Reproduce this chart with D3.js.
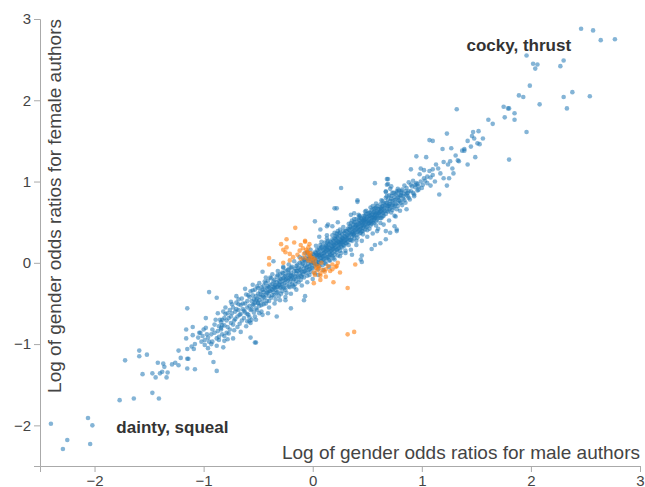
<!DOCTYPE html>
<html><head><meta charset="utf-8">
<script src="https://cdn.jsdelivr.net/npm/d3@7"></script>
<style>body{margin:0;background:#fff}svg{display:block;font-family:"Liberation Sans",Arial,sans-serif}</style>
</head><body><svg id="c" width="645" height="487"></svg>
<script>
const xTicks=[-2,-1,0,1,2,3];
const yTicks=[-2,-1,0,1,2,3];
const xTitle="Log of gender odds ratios for male authors";
const yTitle="Log of gender odds ratios for female authors";
const labelText=["cocky, thrust","dainty, squeal"];
const labelX=[1.41,-1.80];
const labelY=[2.61,-2.10];

const blueSparse=[[2.46,2.88],[2.57,2.86],[2.64,2.74],[2.77,2.75],[1.96,2.55],[2.30,2.49],[2.02,2.45],[2.06,2.44],[2.04,2.39],[2.27,2.42],[1.99,2.18],[1.89,2.06],[1.93,2.04],[2.08,1.95],[2.38,2.10],[2.30,2.04],[2.54,2.05],[2.33,1.90],[1.75,1.92],[1.79,1.90],[1.80,1.90],[1.85,1.84],[1.76,1.79],[1.85,1.76],[1.32,1.89],[1.61,1.76],[1.65,1.71],[1.96,1.61],[1.23,1.59],[1.47,1.61],[1.52,1.62],[1.46,1.56],[1.48,1.53],[1.56,1.53],[1.42,1.50],[1.51,1.47],[1.53,1.46],[1.07,1.51],[1.10,1.50],[1.19,1.40],[1.27,1.41],[1.37,1.38],[1.39,1.40],[1.39,1.38],[1.45,1.43],[0.95,1.31],[1.04,1.30],[1.31,1.32],[1.33,1.26],[1.34,1.25],[1.26,1.25],[1.49,1.30],[1.42,1.21],[1.80,1.27],[1.20,1.24],[1.24,1.21],[1.28,1.16],[1.29,1.10],[1.13,1.21],[1.15,1.16],[1.10,1.15],[1.07,1.13],[0.99,1.16],[1.02,1.14],[0.90,1.15],[0.98,1.09],[1.02,1.04],[1.05,1.06],[1.08,1.05],[1.10,1.08],[1.17,1.10],[1.20,1.04],[1.25,1.04],[1.23,0.95],[1.16,0.84],[0.94,0.96],[0.96,0.97],[0.92,1.01],[0.88,0.99],[0.69,1.03],[0.68,0.96],[0.72,0.94],[0.67,0.88],[0.77,0.88],[0.81,0.86],[0.86,0.84],[0.93,0.82],[0.79,0.81],[1.00,0.92],[1.05,0.98],[1.12,1.00],[0.97,0.90],[1.08,0.95],
[-2.40,-1.98],[-2.29,-2.29],[-2.25,-2.18],[-2.06,-1.91],[-2.02,-2.00],[-2.04,-2.23],[-1.77,-1.69],[-1.64,-1.67],[-1.47,-1.60],[-1.41,-1.67],[-1.72,-1.20],[-1.59,-1.08],[-1.59,-1.15],[-1.52,-1.13],[-1.56,-1.37],[-1.47,-1.36],[-1.44,-1.41],[-1.42,-1.23],[-1.37,-1.24],[-1.36,-1.28],[-1.38,-1.34],[-1.40,-1.36],[-1.33,-1.35],[-1.34,-1.41],[-1.29,-1.25],[-1.26,-1.23],[-1.23,-1.26],[-1.21,-1.17],[-1.15,-1.18],[-1.15,-1.30],[-1.08,-1.31],[-1.23,-1.08],[-1.11,-1.03],[-1.09,-1.06],[-1.16,-0.93],[-1.10,-0.89],[-1.08,-1.00],[-1.03,-0.86],[-1.01,-0.90],[-0.99,-0.95],[-0.95,-0.97],[-0.96,-1.05],[-0.93,-1.00],[-0.94,-1.11],[-0.91,-1.22],[-0.88,-1.33],[-0.86,-0.78],[-0.81,-0.90],[-0.78,-0.94],[-0.72,-0.83],[-0.60,-0.72],[-0.57,-0.92],[-0.66,-0.85],[-0.75,-0.74],[-0.84,-0.80],[-0.96,-0.92],
[-1.15,-0.56],[-0.95,-0.36],[-0.88,-0.43],[-0.98,-0.68],[-1.16,-0.82],[-1.10,-0.79],[-1.04,-0.86],[-1.00,-0.82],[-1.05,-0.92],[-1.02,-0.97],[-0.97,-0.88],[-1.15,-1.06],[-1.14,-1.18],[-0.92,-0.82],[-0.88,-0.93],[-0.86,-0.91],[-0.84,-0.82],[-0.83,-0.70],[-0.81,-0.68],[-0.75,-0.48],[-0.70,-0.41],[-0.68,-0.51],[-0.78,-0.79],[-0.77,-0.87],[-0.81,-0.96],[-0.73,-0.93],[-0.52,-0.98],[-0.82,-1.04],
[-0.50,-0.49],[-0.41,-0.62],[-0.33,-0.66],[-0.53,-0.98],[-0.20,-0.56],[-0.25,-0.46],[-0.07,-0.41],[-0.08,-0.46],[-0.57,-0.74],[-0.36,0.02],[-0.46,-0.11],[-0.27,-0.05],
[0.26,0.92],[0.41,0.77],[0.20,0.67],[0.02,0.51],[0.07,0.41],[0.14,0.47],[0.18,0.45],[0.23,0.50],[0.25,0.41],[0.13,0.34],[0.06,0.32],[0.22,0.32],[0.35,0.59],[0.38,0.61],[0.42,0.59],[0.47,0.55],[0.51,0.61],[0.56,0.55],[0.57,0.98],[0.68,1.03],[0.69,0.97],[0.67,0.87],[0.71,0.91],[0.20,0.37],[0.22,0.67],[0.13,0.45],[0.41,0.75],
[0.59,0.39],[0.62,0.49],[0.67,0.39],[0.77,0.39],[0.75,0.45],[0.76,0.57],[0.54,0.17],[0.44,0.04],[0.45,0.09],[0.45,0.01],[0.62,0.24],[0.67,0.29],[0.36,0.10],[0.57,0.22],[0.71,0.37],[0.77,0.41]];

const blueBand=[[-0.98,-0.80],[-0.93,-0.88],[-0.90,-0.76],[-0.87,-0.84],[-0.85,-0.70],[-0.83,-0.77],[-0.80,-0.63],[-0.79,-0.86],[-0.77,-0.68],[-0.76,-0.58],[-0.99,-1.01],[-0.92,-0.97],[-0.88,-1.02],[-0.82,-0.60],
[-0.74,-0.62],[-0.73,-0.55],[-0.72,-0.71],[-0.71,-0.60],[-0.70,-0.49],[-0.69,-0.66],[-0.68,-0.58],[-0.67,-0.75],[-0.66,-0.52],[-0.66,-0.63],[-0.65,-0.44],[-0.64,-0.57],[-0.63,-0.68],[-0.62,-0.50],[-0.62,-0.61],[-0.61,-0.39],[-0.60,-0.55],[-0.60,-0.47],[-0.59,-0.64],[-0.58,-0.42],[-0.58,-0.53],[-0.57,-0.35],[-0.57,-0.58],[-0.56,-0.47],[-0.56,-0.70],[-0.55,-0.40],[-0.55,-0.52],[-0.54,-0.45],[-0.54,-0.61],[-0.53,-0.33],[-0.53,-0.49],[-0.52,-0.41],[-0.52,-0.56],[-0.51,-0.44],[-0.51,-0.29],[-0.50,-0.50],[-0.50,-0.38],[-0.49,-0.46],[-0.49,-0.62],[-0.48,-0.35],[-0.48,-0.42],[-0.47,-0.52],[-0.47,-0.30],[-0.46,-0.40],[-0.46,-0.47],
[-0.45,-0.36],[-0.45,-0.28],[-0.44,-0.43],[-0.44,-0.33],[-0.43,-0.25],[-0.43,-0.39],[-0.42,-0.31],[-0.42,-0.47],[-0.41,-0.36],[-0.41,-0.22],[-0.40,-0.30],[-0.40,-0.41],[-0.39,-0.27],[-0.39,-0.35],[-0.38,-0.19],[-0.38,-0.32],[-0.37,-0.40],[-0.37,-0.26],[-0.36,-0.30],[-0.36,-0.36],[-0.35,-0.21],[-0.35,-0.28],[-0.34,-0.33],[-0.34,-0.45],[-0.33,-0.24],[-0.33,-0.17],[-0.32,-0.29],[-0.32,-0.36],[-0.31,-0.22],[-0.31,-0.27],[-0.30,-0.14],[-0.30,-0.31],[-0.30,-0.24],[-0.29,-0.38],[-0.29,-0.20],[-0.28,-0.26],[-0.28,-0.12],[-0.27,-0.22],[-0.27,-0.30],[-0.26,-0.17],[-0.26,-0.25],[-0.25,-0.33],[-0.25,-0.10],[-0.24,-0.20],[-0.24,-0.27],[-0.23,-0.15],[-0.23,-0.22],[-0.22,-0.08],[-0.22,-0.29],[-0.21,-0.18],[-0.21,-0.24],[-0.20,-0.12],[-0.20,-0.20],[-0.19,-0.26],[-0.19,-0.05],[-0.18,-0.15],[-0.18,-0.21],[-0.17,-0.10],[-0.17,-0.30],[-0.16,-0.17],[-0.16,-0.07],[-0.15,-0.13],[-0.15,-0.22],[-0.14,-0.02],[-0.14,-0.10],[-0.13,-0.18],[-0.13,-0.06],[-0.12,-0.13],[-0.12,0.00],[-0.11,-0.09],[-0.11,-0.16],[-0.10,-0.04],[-0.10,-0.11],
[-0.09,-0.01],[-0.09,-0.14],[-0.08,-0.07],[-0.08,0.04],[-0.07,-0.10],[-0.07,-0.03],[-0.06,0.02],[-0.06,-0.12],[-0.05,-0.05],[-0.05,0.08],[-0.04,-0.01],[-0.04,-0.09],[-0.03,0.05],[-0.03,-0.04],[-0.02,0.01],[-0.02,-0.11],[-0.01,0.07],[-0.01,-0.02],[0.00,0.03],[0.00,-0.07],[0.01,0.10],[0.01,0.00],[0.02,0.05],[0.02,-0.04],[0.03,0.12],[0.03,0.02],[0.04,0.07],[0.04,-0.02],[0.05,0.04],[0.05,0.14],[0.06,0.09],[0.06,0.00],[0.07,0.06],[0.07,0.17],[0.08,0.11],[0.08,0.02],[0.09,0.08],[0.09,0.15],[0.10,0.04],[0.10,0.12],[0.11,0.19],[0.11,0.09],[0.12,0.14],[0.12,0.05],[0.13,0.11],[0.13,0.20],[0.14,0.16],[0.14,0.07],[0.15,0.13],[0.15,0.23],[0.16,0.18],[0.16,0.10],[0.17,0.15],[0.17,0.25],[0.18,0.20],[0.18,0.12],[0.19,0.17],[0.19,0.27],[0.20,0.22],[0.20,0.14],[0.21,0.19],[0.21,0.29],[0.22,0.24],[0.22,0.16],[0.23,0.21],[0.23,0.31],[0.24,0.26],[0.24,0.18],[0.25,0.23],[0.25,0.33],[0.26,0.28],[0.26,0.20],[0.27,0.25],[0.27,0.35],[0.28,0.30],[0.28,0.22],[0.29,0.27],[0.29,0.37],[0.30,0.32],[0.30,0.24],
[-0.08,-0.18],[-0.05,0.13],[-0.03,-0.15],[0.00,0.11],[0.02,-0.13],[0.04,0.16],[0.05,-0.08],[0.07,0.22],[0.09,-0.03],[0.11,0.25],[0.12,-0.01],[0.14,0.27],[0.16,0.03],[0.18,0.29],[0.19,0.06],[0.21,0.33],[0.23,0.09],[0.24,0.36],[0.26,0.12],[0.28,0.39],[0.30,0.15],[0.03,0.09],[0.08,0.06],[0.13,0.16],[0.17,0.21],[0.22,0.27],[0.27,0.30],[0.10,0.08],[0.15,0.18],[0.20,0.18],[0.25,0.28],
[0.31,0.29],[0.31,0.39],[0.32,0.34],[0.32,0.26],[0.33,0.41],[0.33,0.31],[0.34,0.37],[0.34,0.45],[0.35,0.28],[0.35,0.35],[0.36,0.42],[0.36,0.32],[0.37,0.47],[0.37,0.38],[0.38,0.30],[0.38,0.36],[0.39,0.44],[0.39,0.50],[0.40,0.34],[0.40,0.41],[0.41,0.47],[0.41,0.38],[0.42,0.53],[0.42,0.44],[0.43,0.36],[0.43,0.41],[0.44,0.49],[0.44,0.55],[0.45,0.39],[0.45,0.46],[0.46,0.52],[0.46,0.43],[0.47,0.58],[0.47,0.49],[0.48,0.41],[0.48,0.47],[0.49,0.54],[0.49,0.60],[0.50,0.45],[0.50,0.51],[0.51,0.57],[0.51,0.48],[0.52,0.62],[0.52,0.54],[0.53,0.46],[0.53,0.51],[0.54,0.59],[0.54,0.65],[0.55,0.50],[0.55,0.56],[0.56,0.62],[0.56,0.53],[0.57,0.67],[0.57,0.59],[0.58,0.51],[0.58,0.56],[0.59,0.63],[0.59,0.70],[0.60,0.55],[0.60,0.61],
[0.33,0.22],[0.36,0.52],[0.40,0.27],[0.43,0.57],[0.46,0.35],[0.49,0.64],[0.52,0.42],[0.55,0.70],[0.58,0.46],[0.35,0.44],[0.42,0.49],[0.48,0.53],[0.53,0.57],[0.57,0.63],[0.38,0.40],[0.45,0.50],
[0.61,0.66],[0.61,0.58],[0.62,0.72],[0.62,0.63],[0.63,0.55],[0.63,0.68],[0.64,0.61],[0.64,0.76],[0.65,0.66],[0.65,0.58],[0.66,0.71],[0.66,0.64],[0.67,0.80],[0.67,0.60],[0.68,0.69],[0.68,0.74],[0.69,0.63],[0.70,0.72],[0.70,0.83],[0.71,0.67],[0.71,0.76],[0.72,0.62],[0.72,0.79],[0.73,0.71],[0.74,0.86],[0.74,0.68],[0.75,0.77],[0.76,0.72],[0.76,0.84],[0.77,0.66],[0.78,0.80],[0.78,0.74],[0.79,0.89],[0.80,0.76],[0.81,0.83],[0.82,0.71],[0.82,0.90],[0.83,0.79],[0.84,0.85],[0.85,0.74],[0.86,0.92],[0.87,0.82],[0.88,0.88],[0.89,0.78],[0.90,0.96],[0.92,0.86],[0.94,0.93],[0.96,0.89]];

const blueBand2=[[-0.90,-0.86],[-0.89,-0.70],[-0.87,-0.62],[-0.86,-0.95],[-0.84,-0.73],[-0.83,-0.88],[-0.81,-0.77],[-0.80,-0.55],[-0.79,-0.71],[-0.78,-0.62],[-0.76,-0.82],[-0.75,-0.66],[-0.74,-0.51],[-0.73,-0.76],[-0.71,-0.69],[-0.70,-0.57],[-0.69,-0.79],[-0.68,-0.45],[-0.67,-0.64],[-0.65,-0.71],[-0.64,-0.50],[-0.63,-0.59],[-0.61,-0.78],[-0.60,-0.63],[-0.59,-0.40],[-0.58,-0.67],[-0.56,-0.57],[-0.55,-0.34],[-0.54,-0.51],[-0.53,-0.66],[-0.52,-0.46],[-0.51,-0.58],[-0.50,-0.31],[-0.49,-0.53],[-0.48,-0.39],[-0.47,-0.60],[-0.46,-0.33],[-0.45,-0.51],
[-0.45,-0.42],[-0.44,-0.23],[-0.43,-0.50],[-0.42,-0.37],[-0.41,-0.29],[-0.40,-0.47],[-0.39,-0.18],[-0.38,-0.43],[-0.37,-0.33],[-0.36,-0.23],[-0.35,-0.40],[-0.34,-0.27],[-0.33,-0.37],[-0.32,-0.15],[-0.31,-0.41],[-0.30,-0.19],[-0.29,-0.30],[-0.28,-0.35],[-0.27,-0.13],[-0.26,-0.31],[-0.25,-0.21],[-0.24,-0.37],[-0.23,-0.09],[-0.22,-0.19],[-0.21,-0.30],[-0.20,-0.06],[-0.19,-0.16],[-0.18,-0.28],[-0.17,-0.20],[-0.16,-0.26],[-0.15,-0.04],[-0.14,-0.17],[-0.13,-0.24],[-0.12,-0.08],[-0.11,-0.21],[-0.10,0.01],[-0.10,-0.17],[-0.35,-0.31],[-0.30,-0.27],[-0.25,-0.16],[-0.20,-0.16],[-0.15,-0.10],[-0.40,-0.35],[-0.33,-0.30],[-0.27,-0.19],[-0.22,-0.13],
[-0.09,0.06],[-0.08,-0.11],[-0.07,0.03],[-0.06,-0.06],[-0.05,-0.16],[-0.04,0.05],[-0.03,-0.08],[-0.02,0.09],[-0.01,-0.06],[0.00,0.00],[0.01,0.05],[0.02,0.13],[0.03,-0.02],[0.04,0.10],[0.05,0.01],[0.06,0.18],[0.06,-0.04],[0.07,0.10],[0.08,0.19],[0.09,0.03],[0.10,0.16],[0.11,0.00],[0.11,0.13],[0.12,0.21],[0.13,0.06],[0.14,0.22],[0.15,0.08],[0.16,0.14],[0.16,0.26],[0.17,0.10],[0.18,0.17],[0.19,0.22],[0.20,0.30],[0.20,0.10],[0.21,0.24],[0.22,0.13],[0.23,0.26],[0.23,0.17],[0.24,0.22],[0.25,0.37],[0.25,0.15],[0.26,0.24],[0.27,0.31],[0.27,0.19],[0.28,0.26],[0.29,0.33],[0.29,0.21],[0.30,0.28],[0.30,0.39],[0.15,0.03],[0.18,0.08],[0.22,0.36],[0.09,0.21],[0.05,0.09],[0.13,0.25],
[0.31,0.34],[0.31,0.24],[0.32,0.42],[0.33,0.36],[0.34,0.28],[0.34,0.40],[0.35,0.49],[0.36,0.37],[0.36,0.27],[0.37,0.43],[0.38,0.50],[0.38,0.34],[0.39,0.39],[0.40,0.46],[0.40,0.54],[0.41,0.31],[0.41,0.43],[0.42,0.39],[0.43,0.48],[0.43,0.52],[0.44,0.37],[0.44,0.44],[0.45,0.54],[0.46,0.47],[0.46,0.39],[0.47,0.45],[0.47,0.53],[0.48,0.58],[0.49,0.44],[0.49,0.50],[0.50,0.56],[0.50,0.40],[0.51,0.52],[0.52,0.58],[0.52,0.49],[0.53,0.62],[0.54,0.48],[0.54,0.55],[0.55,0.60],[0.56,0.66],[0.56,0.49],[0.57,0.55],[0.58,0.61],[0.58,0.68],[0.59,0.53],[0.59,0.58],[0.60,0.66],[0.61,0.62],[0.62,0.55],[0.62,0.68],[0.63,0.63],[0.64,0.70],[0.64,0.57],[0.65,0.62],[0.65,0.73],
[0.66,0.68],[0.67,0.74],[0.68,0.64],[0.69,0.70],[0.69,0.78],[0.70,0.66],[0.71,0.72],[0.72,0.82],[0.73,0.76],[0.73,0.65],[0.74,0.73],[0.75,0.81],[0.75,0.70],[0.76,0.78],[0.77,0.86],[0.78,0.70],[0.79,0.77],[0.80,0.83],[0.81,0.74],[0.81,0.88],[0.83,0.82],[0.84,0.77],[0.85,0.88],[0.87,0.86],[0.88,0.80],[0.90,0.88],[0.91,0.94],[0.93,0.84],[0.95,0.98],[0.97,0.94],[0.99,1.00],[1.01,0.96],[1.03,1.01]];

const blueBand3=[[-0.62,-0.32],[-0.58,-0.72],[-0.55,-0.27],[-0.52,-0.70],[-0.49,-0.25],[-0.46,-0.64],[-0.43,-0.18],[-0.40,-0.55],[-0.37,-0.14],[-0.35,-0.50],[-0.32,-0.10],[-0.30,-0.46],[-0.27,-0.06],[-0.25,-0.42],[-0.22,-0.02],[-0.20,-0.38],[-0.17,0.02],[-0.15,-0.33],[-0.12,0.07],[-0.10,-0.28],
[-0.07,0.12],[-0.05,-0.24],[-0.02,0.16],[0.00,-0.20],[0.03,0.21],[0.05,-0.15],[0.08,0.26],[0.10,-0.09],[0.13,0.30],[0.15,-0.05],[0.18,0.34],[0.20,0.04],[0.23,0.39],[0.25,0.08],[0.28,0.44],[0.30,0.12],[0.33,0.48],[0.35,0.16],[0.38,0.54],[0.40,0.22],[0.43,0.58],[0.45,0.27],[0.48,0.63],[0.50,0.32],[0.53,0.68],[0.55,0.36],[0.58,0.73],[0.60,0.42],[0.63,0.77],[0.65,0.47],[0.68,0.82],[0.70,0.52],[0.73,0.86],[0.75,0.58],[0.78,0.91],[0.80,0.64],[0.84,0.95],[0.86,0.66],[0.32,0.30],[0.37,0.35],[0.44,0.42],[0.51,0.49],[0.57,0.58],[0.63,0.66],[0.70,0.70],[0.39,0.46],[0.47,0.51],[0.54,0.52],[0.61,0.60],[0.12,0.18],[0.06,0.12],[0.19,0.24],[0.26,0.26]];

const orangePts=[[-0.29,0.23],[-0.24,0.29],[-0.25,0.13],[-0.21,0.11],[-0.17,0.25],[-0.11,0.22],[-0.07,0.26],[-0.03,0.23],[-0.05,0.14],[-0.08,0.11],[-0.04,0.12],[-0.02,0.07],[-0.07,0.06],[-0.11,0.05],[-0.14,0.10],[-0.18,0.07],[-0.21,0.03],[-0.40,0.06],[-0.40,-0.02],[-0.27,0.00],[-0.01,0.02],[0.02,-0.01],[0.05,-0.04],[0.08,0.00],[0.04,-0.09],[0.09,-0.09],[0.11,-0.11],[0.02,-0.15],[0.07,-0.16],[0.12,-0.17],[0.16,-0.10],[0.22,-0.04],[0.23,0.00],[0.18,-0.02],[0.14,-0.04],[0.01,-0.25],[0.07,-0.21],[0.19,-0.24],[0.32,-0.31],[0.39,-0.02],[0.32,-0.88],[0.38,-0.85],[-0.16,0.43],[-0.24,0.19],[-0.27,0.16],[-0.07,0.27],[-0.04,0.19],[0.25,-0.12],[0.12,-0.08],[0.07,-0.13],[0.21,-0.05],[0.18,-0.08],[-0.06,0.16],[-0.02,0.12],[0.00,0.06],[-0.04,0.03],[0.03,-0.06],[-0.09,0.18],[-0.12,0.15],[0.02,0.04],[0.06,-0.06],[0.01,-0.12],[-0.03,0.09]];

const svg=d3.select("#c");
const x=d3.scaleLinear().domain([-2.5,3]).range([40,640]);
const y=d3.scaleLinear().domain([-2.5,3]).range([466,19]);

const gx=svg.append("g").attr("transform","translate(0,466)").call(d3.axisBottom(x).tickValues(xTicks).tickFormat(d3.format("d")));
const gy=svg.append("g").attr("transform","translate(40,0)").call(d3.axisLeft(y).tickValues(yTicks).tickFormat(d3.format("d")));
[gx,gy].forEach(g=>{
  g.selectAll("path,line").attr("stroke","#aaa");
  g.selectAll("text").attr("fill","#444").style("font-size","15px").style("font-family","'Liberation Sans',Arial,sans-serif");
});

svg.append("text").attr("x",640).attr("y",459).attr("text-anchor","end")
  .attr("fill","#444").style("font-size","19px").text(xTitle);
svg.append("text").attr("transform","translate(61,19) rotate(-90)").attr("text-anchor","end")
  .attr("fill","#444").style("font-size","19px").text(yTitle);

const blue=blueSparse.concat(blueBand,blueBand2,blueBand3);
svg.append("g").selectAll("circle").data(blue).join("circle")
  .attr("cx",d=>x(d[0])).attr("cy",d=>y(d[1])).attr("r",2.3)
  .attr("fill","#1f77b4").attr("fill-opacity",0.55);
svg.append("g").selectAll("circle").data(orangePts).join("circle")
  .attr("cx",d=>x(d[0])).attr("cy",d=>y(d[1])).attr("r",2.3)
  .attr("fill","#ff7f0e").attr("fill-opacity",0.6);

svg.append("g").selectAll("text").data(labelText).join("text")
  .attr("x",(d,i)=>x(labelX[i])).attr("y",(d,i)=>y(labelY[i]))
  .attr("fill","#333").style("font-size","17px").style("font-weight","bold").text(d=>d);
</script></body></html>
